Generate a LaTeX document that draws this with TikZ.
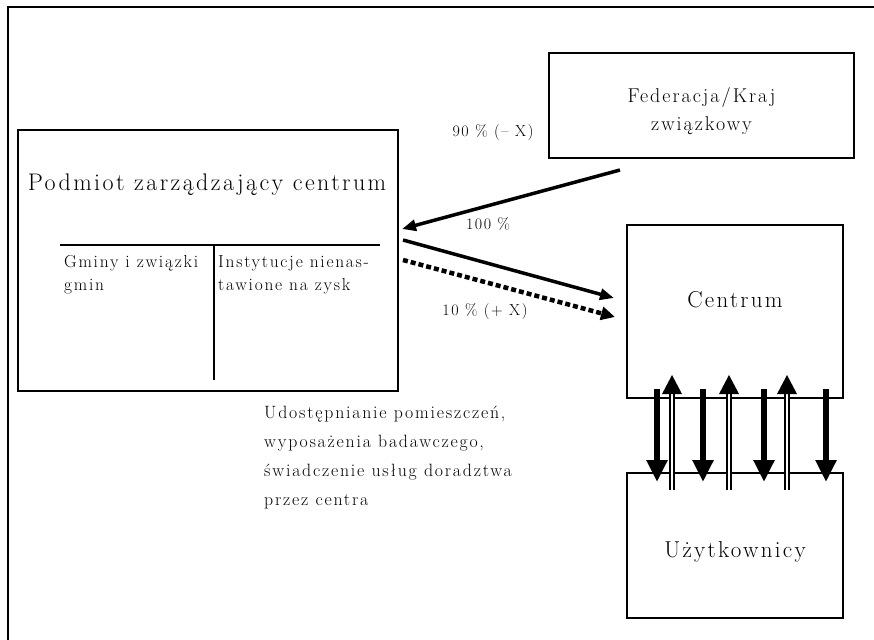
\documentclass[tikz,border=0pt]{standalone}
\usepackage{fontspec}
\setmainfont{Latin Modern Roman}[LetterSpace=10]
\usetikzlibrary{arrows.meta,calc}
\begin{document}
\begin{tikzpicture}[x=1pt,y=-1pt,
  box/.style={draw,line width=2pt,inner sep=0pt,anchor=north west},
  bigtext/.style={font=\fontsize{23}{28}\selectfont,align=center},
  smalltext/.style={font=\fontsize{17.4}{23}\selectfont,align=left,anchor=north west,inner sep=0pt},
  lbl/.style={font=\fontsize{16}{18}\selectfont,inner sep=0pt},
  flow/.style={line width=3.5pt,-{Triangle[length=14pt,width=11pt]}},
  dflow/.style={line width=4.5pt,dash pattern=on 5pt off 3pt,-{Triangle[length=14pt,width=13pt]}},
  downar/.style={line width=6.5pt,-{Triangle[length=22pt,width=20pt]}},
  upshaft/.style={line width=2pt,double distance=2pt}
]
\useasboundingbox (0,0) rectangle (874,639);
% outer frame (only top and left visible)
\draw[line width=1.6pt] (8,650) |- (880,7);
% boxes
\node[box,minimum width=305pt,minimum height=105pt] (fed) at (548,52) {};
\node[bigtext,font=\fontsize{20}{28}\selectfont] (fedt) at ($(fed.center)+(0,6)$) {Federacja/Kraj\\związkowy};
\node[box,minimum width=380pt,minimum height=261pt] (pod) at (17,129) {};
\node[bigtext,font=\fontsize{24}{28}\selectfont] (podt) at (207,185) {Podmiot zarządzający centrum};
\node[box,minimum width=216pt,minimum height=173pt] (cen) at (626,224) {};
\node[bigtext] (cent) at ($(cen.center)+(0,-12)$) {Centrum};
\node[box,minimum width=216pt,minimum height=145pt] (uzy) at (626,472) {};
\node[bigtext] (uzyt) at ($(uzy.center)+(0,6)$) {Użytkownicy};
% inner table
\coordinate (hl) at (60,245);
\coordinate (hr) at (380,245);
\coordinate (vt) at (214,245);
\coordinate (vb) at (214,380);
\draw[line width=1.3pt] (hl) -- (hr);
\draw[line width=1.3pt] (vt) -- (vb);
\node[smalltext] (gmin) at (64,255) {Gminy i związki\\gmin};
\node[smalltext] (inst) at (218,255) {Instytucje nienas-\\tawione na zysk};
% flows
\coordinate (f1s) at (620,170);
\coordinate (f1e) at (402,229);
\coordinate (f2s) at (403,240);
\coordinate (f2e) at (614,298);
\coordinate (f3s) at (403,260);
\coordinate (f3e) at (615,317);
\draw[flow] (f1s) -- (f1e);
\draw[flow] (f2s) -- (f2e);
\draw[dflow] (f3s) -- (f3e);
\node[lbl] (l90) at (493,133) {90 \% (– X)};
\node[lbl] (l100) at (488,224) {100 \%};
\node[lbl] (l10) at (485,312) {10 \% (+ X)};
% text block
\node[font=\fontsize{17.8}{29}\selectfont,align=left,anchor=north west,inner sep=0pt] (udo) at (264,406)
  {Udostępnianie pomieszczeń,\\wyposażenia badawczego,\\świadczenie usług doradztwa\\przez centra};
% vertical arrows
\foreach \x in {657,703,764,826}{
  \draw[downar] (\x,389) -- (\x,482);
}
\foreach \x in {672,729,787}{
  \draw[upshaft] (\x,490) -- (\x,392);
  \fill (\x-10,394) -- (\x+10,394) -- (\x,375) -- cycle;
}
\end{tikzpicture}
\end{document}
